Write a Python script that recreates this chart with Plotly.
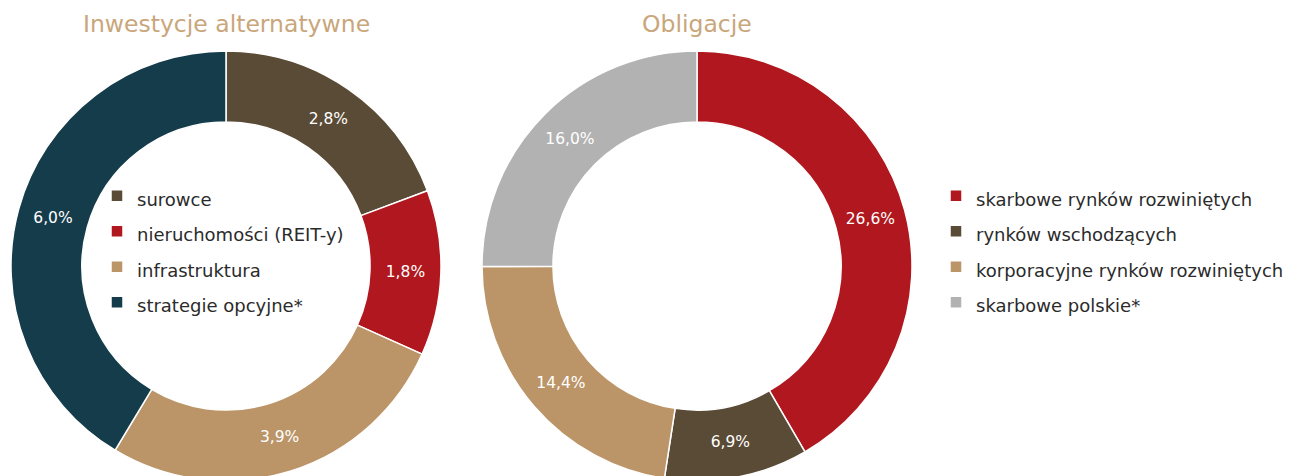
import plotly.graph_objects as go

W, H = 1295, 490

# data
alt_labels = ["surowce", "nieruchomości (REIT-y)", "infrastruktura", "strategie opcyjne*"]
alt_values = [2.8, 1.8, 3.9, 6.0]
alt_text = ["2,8%", "1,8%", "3,9%", "6,0%"]
alt_colors = ["#5a4b36", "#b0171e", "#bb9568", "#153c4b"]

obl_labels = ["skarbowe rynków rozwiniętych", "rynków wschodzących",
              "korporacyjne rynków rozwiniętych", "skarbowe polskie*"]
obl_values = [26.6, 6.9, 14.4, 16.0]
obl_text = ["26,6%", "6,9%", "14,4%", "16,0%"]
obl_colors = ["#b0171e", "#5a4b36", "#bb9568", "#b2b2b2"]

titles = ["Inwestycje alternatywne", "Obligacje"]

FONT = "DejaVu Sans"
LEG_TXT = 18.0


def leg(lbls):
    return [f'<span style="font-size:{LEG_TXT}px">{l}</span>' for l in lbls]


def dom(cx, cy, r):
    return dict(x=[(cx - r) / W, (cx + r) / W], y=[(H - cy - r) / H, (H - cy + r) / H])


fig = go.Figure()
fig.add_trace(go.Pie(
    labels=leg(alt_labels), values=alt_values, text=alt_text, textinfo="text",
    hole=0.67, sort=False, direction="clockwise", rotation=0,
    marker=dict(colors=alt_colors, line=dict(color="white", width=1.5)),
    textposition="inside", insidetextorientation="horizontal",
    textfont=dict(family=FONT, size=15.5, color="white"),
    domain=dom(226, 266, 215), legend="legend", hoverinfo="label+value",
))
fig.add_trace(go.Pie(
    labels=leg(obl_labels), values=obl_values, text=obl_text, textinfo="text",
    hole=0.67, sort=False, direction="clockwise", rotation=0,
    marker=dict(colors=obl_colors, line=dict(color="white", width=1.5)),
    textposition="inside", insidetextorientation="horizontal",
    textfont=dict(family=FONT, size=15.5, color="white"),
    domain=dom(697, 266, 215), legend="legend2", hoverinfo="label+value",
))

legfont = dict(family=FONT, size=25, color="#2b2b2b")
fig.update_layout(
    width=W, height=H, autosize=False,
    margin=dict(l=0, r=0, t=0, b=0),
    paper_bgcolor="white", plot_bgcolor="white",
    font=dict(family=FONT),
    legend=dict(x=97 / W, xanchor="left", y=(H - 173) / H, yanchor="top",
                font=legfont, bgcolor="rgba(0,0,0,0)", traceorder="normal"),
    legend2=dict(x=936 / W, xanchor="left", y=(H - 173) / H, yanchor="top",
                 font=legfont, bgcolor="rgba(0,0,0,0)", traceorder="normal"),
    annotations=[
        dict(text=titles[0], x=226 / W, y=(H - 24) / H, xref="paper", yref="paper",
             showarrow=False, xanchor="center", yanchor="middle",
             font=dict(family=FONT, size=23.5, color="#c9a67b")),
        dict(text=titles[1], x=697 / W, y=(H - 24) / H, xref="paper", yref="paper",
             showarrow=False, xanchor="center", yanchor="middle",
             font=dict(family=FONT, size=23.5, color="#c9a67b")),
    ],
)

fig.write_html("out.html", post_script="document.body.style.overflow='hidden';document.documentElement.style.overflow='hidden';document.body.style.margin='0';")
